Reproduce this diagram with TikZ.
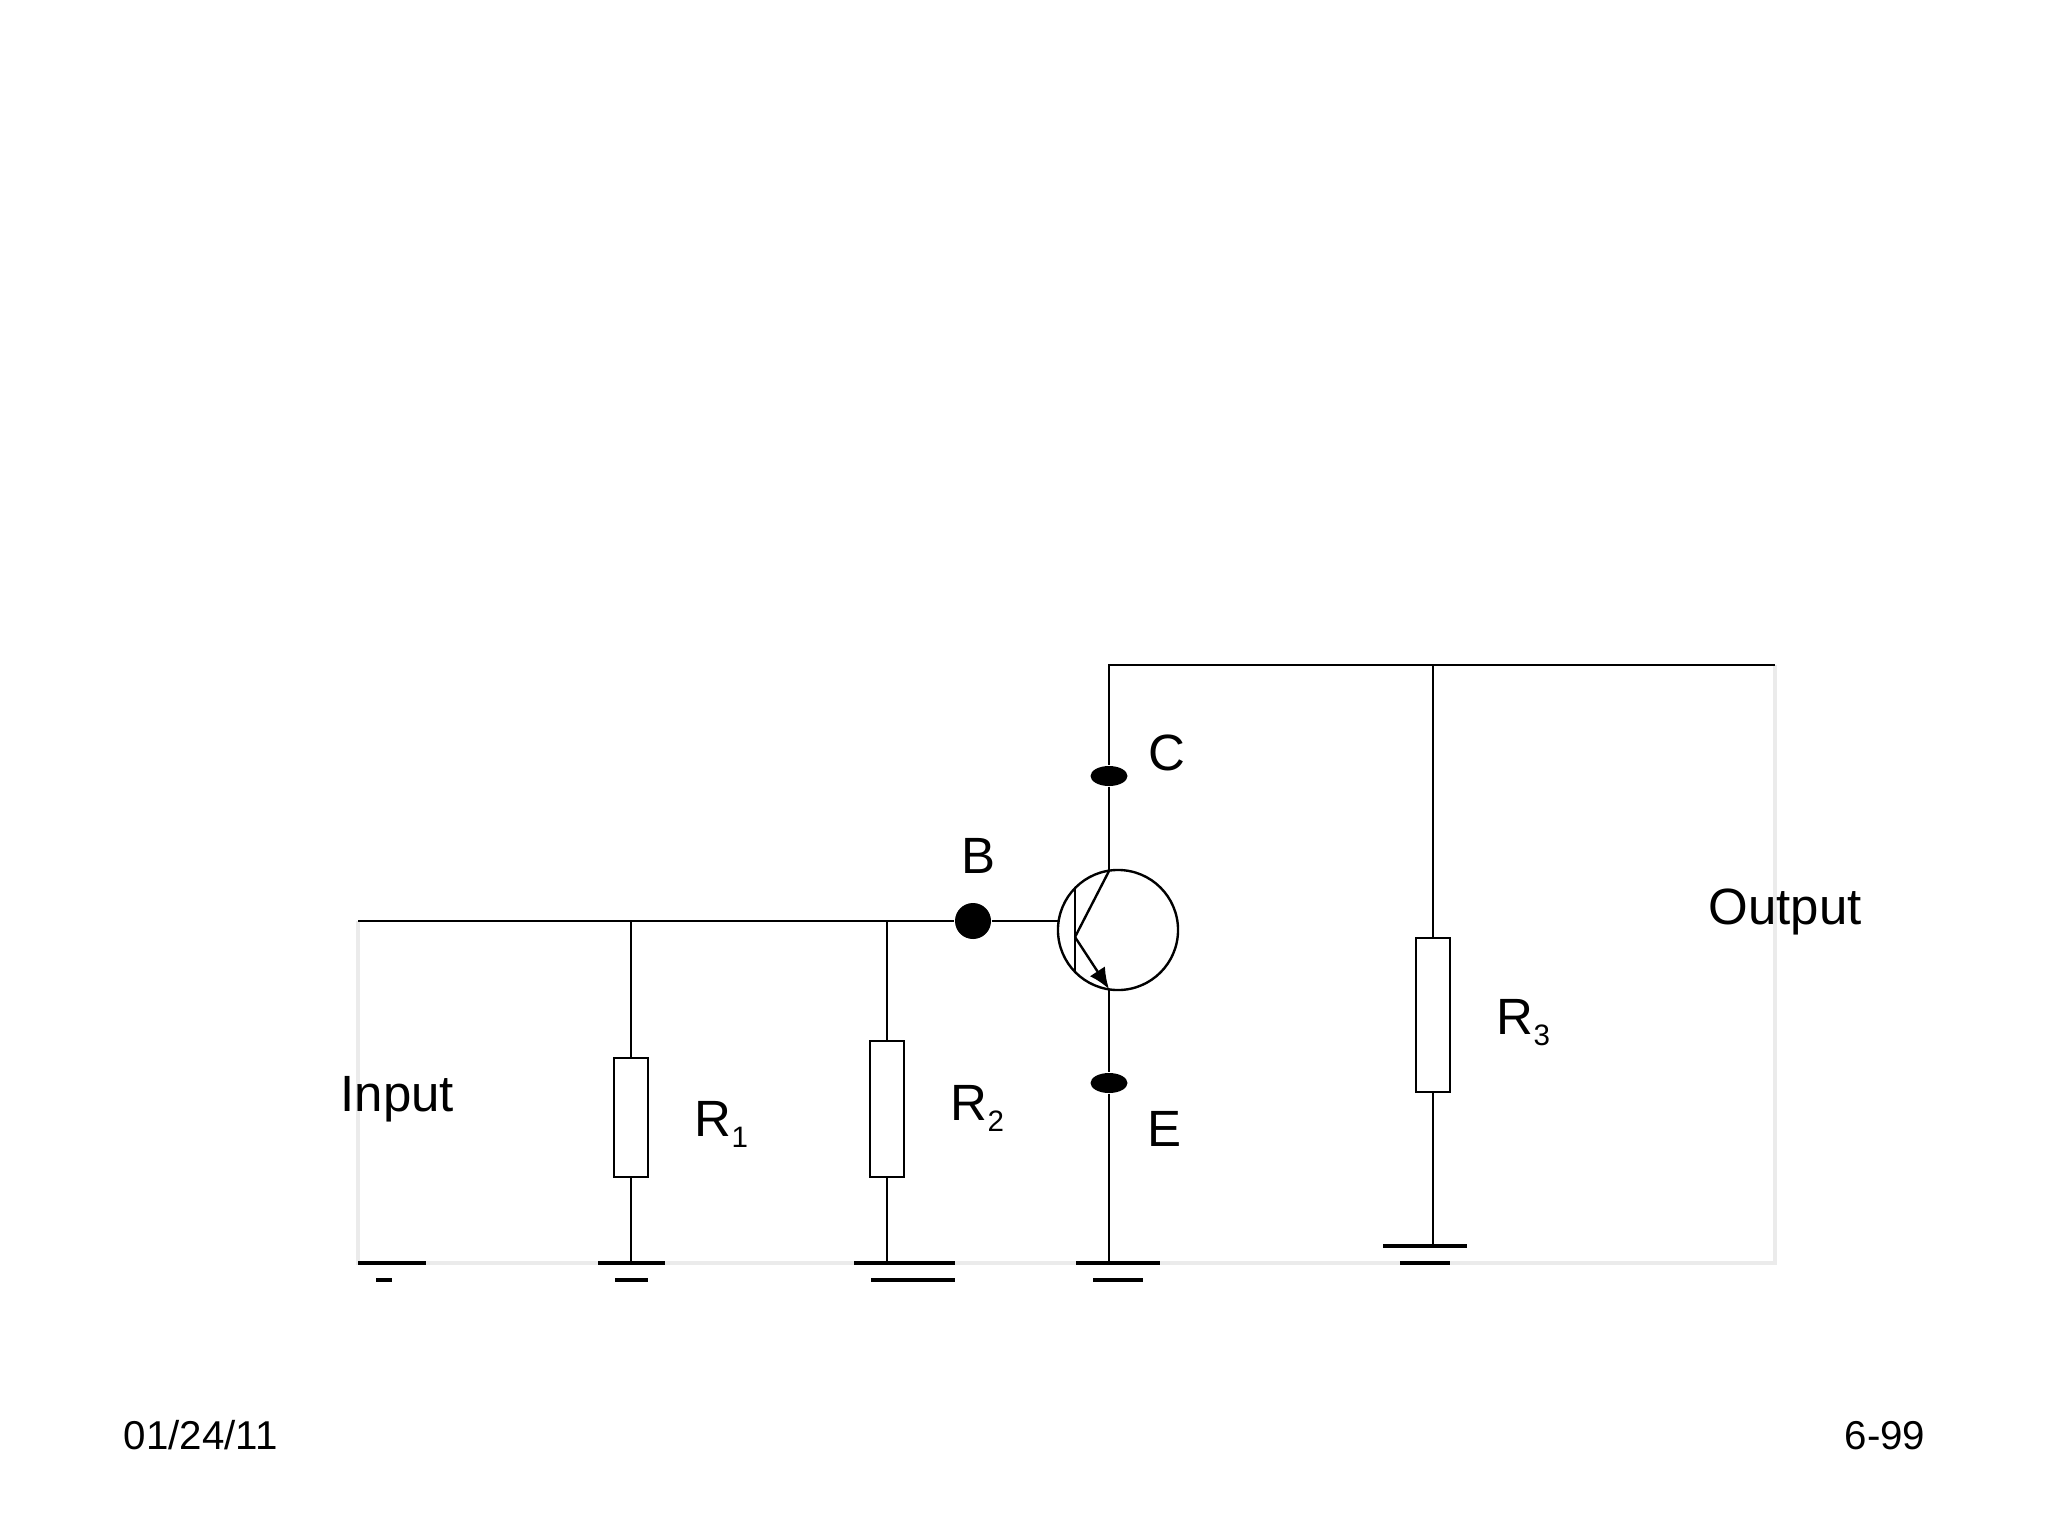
\documentclass[tikz,border=0pt]{standalone}
\usepackage{fontspec}
\setmainfont{Liberation Sans}
\usetikzlibrary{shapes.geometric, arrows.meta}
\definecolor{frame}{gray}{0.92}
\newcommand{\lowidx}[1]{\raisebox{-0.42ex}{\fontsize{8.4}{9}\selectfont #1}}
\tikzset{
    wire/.style={line width=0.68pt, black},
    ghost/.style={line width=0.9pt, frame},
    gnd/.style={line width=0.88pt, black},
    resistor/.style={draw, line width=0.68pt, rectangle, minimum width=0.34cm, inner sep=0pt},
    dotB/.style={circle, fill=black, minimum size=0.36cm, inner sep=0pt},
    dotCE/.style={ellipse, fill=black, minimum width=0.37cm, minimum height=0.2cm, inner sep=0pt},
    lab/.style={anchor=base west, inner sep=0pt, font=\fontsize{14.5}{17}\selectfont},
    foot/.style={inner sep=0pt, font=\fontsize{11.45}{14}\selectfont}
}

\begin{document}
\begin{tikzpicture}[x=0.01cm, y=-0.01cm]
\useasboundingbox (0,0) rectangle (2048,1536);

% corners of the two ports
\coordinate (inTop) at (358,921);
\coordinate (inBot) at (358,1263);
\coordinate (outTop) at (1775,665);
\coordinate (outBot) at (1775,1263);
\coordinate (colTop) at (1109,665);
\coordinate (colIn) at (1109,871);
\coordinate (emOut) at (1109,989);
\coordinate (emBot) at (1109,1263);
\coordinate (baseIn) at (1058,921);

% faint return path
\draw[ghost] (inTop) -- (inBot) -- (outBot) -- (outTop);

\node[resistor, minimum height=1.19cm] (Rone) at (631,1117.5) {};
\node[resistor, minimum height=1.36cm] (Rtwo) at (887,1109) {};
\node[resistor, minimum height=1.54cm] (Rthree) at (1433,1015) {};
\node[dotB] (dotb) at (973,921) {};
\node[dotCE] (dotc) at (1109,776) {};
\node[dotCE] (dote) at (1109,1083) {};
\node[circle, draw, line width=0.68pt, minimum size=1.2cm, inner sep=0pt] (tr) at (1118,930) {};

\draw[wire] (inTop) -- (dotb) -- (baseIn);
\draw[wire] (outTop) -- (colTop) -- (dotc) -- (colIn);
\draw[wire] (emOut) -- (dote) -- (emBot);

\draw[wire] (Rone.north) -- (Rone |- inTop);
\draw[wire] (Rone.south) -- (Rone |- inBot);
\draw[wire] (Rtwo.north) -- (Rtwo |- inTop);
\draw[wire] (Rtwo.south) -- (Rtwo |- inBot);
\draw[wire] (Rthree.north) -- (Rthree |- outTop);
\draw[wire] (Rthree.south) -- (1433,1246);

% transistor
\coordinate (bar) at (1075,937);
\draw[wire] (1075,888) -- (1075,972);
\draw[wire] (bar) -- (colIn);
\draw[wire, -{Latex[length=0.21cm, width=0.18cm]}] (bar) -- (emOut);

% ground bars, from/to/height
\foreach \a/\b/\y in {358/426/1263, 376/392/1280, 598/665/1263, 615/648/1280, 854/955/1263, 871/955/1280, 1076/1160/1263, 1093/1143/1280, 1383/1467/1246, 1400/1450/1263}{
    \draw[gnd] (\a,\y) -- (\b,\y);
}

\node[lab] (input) at (340,1111) {Input};
\node[lab] (output) at (1708,924) {Output};
\node[lab] (labB) at (961,873) {B};
\node[lab] (labC) at (1148,770) {C};
\node[lab] (labE) at (1147,1146) {E};
\node[lab] (labRone) at (694,1136) {R\lowidx{1}};
\node[lab] (labRtwo) at (950,1120) {R\lowidx{2}};
\node[lab] (labRthree) at (1496,1034) {R\lowidx{3}};
\node[foot, anchor=base west] (date) at (123,1449) {01/24/11};
\node[foot, anchor=base east] (page) at (1926,1449) {6-99};
\end{tikzpicture}
\end{document}
